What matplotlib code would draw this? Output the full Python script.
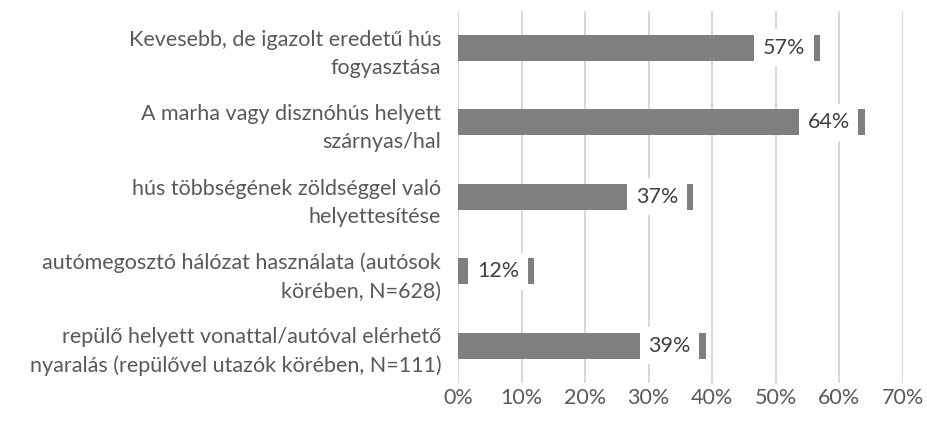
import matplotlib
matplotlib.use("Agg")
import matplotlib.pyplot as plt
from matplotlib.ticker import FuncFormatter

# data, top to bottom as in the chart
categories = [
    "Kevesebb, de igazolt eredetű hús\nfogyasztása",
    "A marha vagy disznóhús helyett\nszárnyas/hal",
    "hús többségének zöldséggel való\nhelyettesítése",
    "autómegosztó hálózat használata (autósok\nkörében, N=628)",
    "repülő helyett vonattal/autóval elérhető\nnyaralás (repülővel utazók körében, N=111)",
]
values = [57, 64, 37, 12, 39]
xticks = [0, 10, 20, 30, 40, 50, 60, 70]

plt.rcParams["font.family"] = ["Lato", "DejaVu Sans"]
text_color = "#595959"
bar_color = "#7f7f7f"

fig = plt.figure(figsize=(9.27, 4.23), dpi=100)
ax = fig.add_axes([0.494, 0.095, 0.48, 0.88])

ypos = list(range(len(categories)))[::-1]
ax.barh(ypos, values, height=0.35, color=bar_color, zorder=2)

# data labels with white box over the bar end
for y, v in zip(ypos, values):
    ax.annotate(f"{v}%", xy=(v, y), xytext=(-15, 0), textcoords="offset pixels",
                ha="right", va="center", fontsize=15.5, color="#404040", zorder=3,
                bbox=dict(boxstyle="square,pad=0.4", fc="white", ec="none"))

ax.set_xlim(0, 70)
ax.set_ylim(-0.5, len(categories) - 0.5)
ax.set_xticks(xticks)
ax.xaxis.set_major_formatter(FuncFormatter(lambda x, p: f"{x:.0f}%"))
ax.set_yticks(ypos)
ax.set_yticklabels(categories, linespacing=1.5)
ax.tick_params(axis="y", length=0, pad=12, labelsize=15.5, labelcolor=text_color)
ax.tick_params(axis="x", length=0, pad=4, labelsize=15.5, labelcolor=text_color)
for lbl in ax.get_yticklabels():
    lbl.set_ha("right")

ax.grid(axis="x", color="#d9d9d9", linewidth=1.5, zorder=0)
for s in ax.spines.values():
    s.set_visible(False)

fig.savefig("out.png", dpi=100)
